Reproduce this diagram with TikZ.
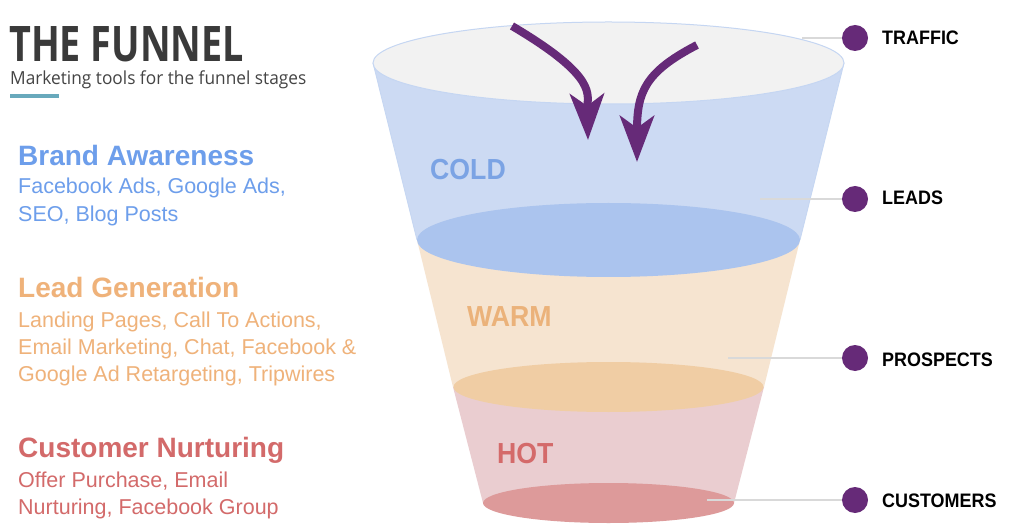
\documentclass[tikz,border=0pt]{standalone}
\usepackage{fontspec}
\setmainfont{Liberation Sans}
\newfontfamily\rob[FakeStretch=0.92]{Liberation Sans}
\newfontfamily\robw{Liberation Sans}
\newfontfamily\titlefont[FakeStretch=0.77]{Open Sans}
\newfontfamily\subfont[FakeStretch=0.96]{Open Sans}
\usetikzlibrary{arrows.meta}
\definecolor{topfill}{HTML}{F2F2F2}
\definecolor{coldbody}{HTML}{CCDAF3}
\definecolor{coldell}{HTML}{ABC4EE}
\definecolor{warmbody}{HTML}{F6E4D0}
\definecolor{warmell}{HTML}{F0CDA4}
\definecolor{hotbody}{HTML}{EACDD0}
\definecolor{hotell}{HTML}{DD9A9A}
\definecolor{coldtxt}{HTML}{7BA3E4}
\definecolor{warmtxt}{HTML}{EBB27A}
\definecolor{hottxt}{HTML}{D46A6A}
\definecolor{bluet}{HTML}{6D9EEB}
\definecolor{oranget}{HTML}{EFB27A}
\definecolor{redt}{HTML}{D36A6A}
\definecolor{purp}{HTML}{662A78}
\definecolor{titlec}{HTML}{3A3A3A}
\definecolor{subc}{HTML}{444444}
\definecolor{barc}{HTML}{68A9BC}
\definecolor{linec}{HTML}{D9D9D9}
\definecolor{edgec}{HTML}{C5D6F2}
\tikzset{
  txt/.style={inner sep=0pt, anchor=base west},
  head/.style={txt, font=\robw\bfseries\fontsize{28}{32}\selectfont},
  body/.style={txt, font=\robw\fontsize{21.5}{24}\selectfont},
  stage/.style={txt, font=\rob\bfseries\fontsize{29}{34}\selectfont},
  rlabel/.style={txt, font=\rob\bfseries\fontsize{19.5}{22}\selectfont, text=black},
  dot/.style={circle, fill=purp, minimum size=26pt, inner sep=0pt},
  conn/.style={draw=linec, line width=1.5pt},
  flow/.style={draw=purp, line width=8pt, -{Stealth[length=46pt,width=34pt,inset=12pt]}},
}
\begin{document}
\begin{tikzpicture}[x=1pt,y=-1pt]
\useasboundingbox (0,0) rectangle (1024,526);
\fill[white] (0,0) rectangle (1024,526);

% title
\node[txt, text depth=0pt, text height=35pt, font=\titlefont\bfseries\fontsize{49}{54}\selectfont, text=titlec] (title) at (9,62) {THE FUNNEL};
\node[txt, text height=13pt, font=\subfont\fontsize{18}{22}\selectfont, text=subc] (sub) at (10,85) {Marketing tools for the funnel stages};
\fill[barc] (10,94) rectangle (59,98);

% left texts
\node[head, text=bluet] (ba) at (18,166) {Brand Awareness};
\node[body, text=bluet] (ba1) at (18,194) {Facebook Ads, Google Ads,};
\node[body, text=bluet] (ba2) at (18,222) {SEO, Blog Posts};
\node[head, text=oranget] (lg) at (18,298) {Lead Generation};
\node[body, text=oranget] (lg1) at (18,327) {Landing Pages, Call To Actions,};
\node[body, text=oranget] (lg2) at (18,354) {Email Marketing, Chat, Facebook \&};
\node[body, text=oranget] (lg3) at (18,381) {Google Ad Retargeting, Tripwires};
\node[head, text=redt] (cn) at (18,457) {Customer Nurturing};
\node[body, text=redt] (cn1) at (18,487) {Offer Purchase, Email};
\node[body, text=redt] (cn2) at (18,514) {Nurturing, Facebook Group};

% funnel
\fill[hotbody] (453,387) -- (764,387) -- (734,503) -- (483,503) -- cycle;
\fill[hotell] (608.5,503) ellipse [x radius=125.5, y radius=20];
\fill[warmbody] (417,240) -- (800,240) -- (764,387) -- (453,387) -- cycle;
\fill[warmell] (608.5,387) ellipse [x radius=155, y radius=25];
\fill[coldbody] (373,63) -- (844,63) -- (800,240) -- (417,240) -- cycle;
\draw[edgec, line width=0.8pt] (373,63) -- (417,240) (844,63) -- (800,240);
\fill[coldell] (608.5,240) ellipse [x radius=191.5, y radius=37];
\filldraw[fill=topfill, draw=edgec, line width=1pt] (608.5,63) ellipse [x radius=235.5, y radius=41];

% stage labels
\node[stage, text=coldtxt] (cold) at (430,180) {COLD};
\node[stage, text=warmtxt] (warm) at (467,326) {WARM};
\node[stage, text=hottxt] (hot) at (497,463) {HOT};

% arrows
\coordinate (a1s) at (512,26);
\coordinate (a1e) at (588,140);
\coordinate (a2s) at (697,45);
\coordinate (a2e) at (637,162);
\draw[flow] (a1s) .. controls (600,78) and (587,95) .. (a1e);
\draw[flow] (a2s) .. controls (645,72) and (637,92) .. (a2e);

% dots and connectors
\node[dot] (d1) at (855,38) {};
\node[dot] (d2) at (855,199) {};
\node[dot] (d3) at (855,358) {};
\node[dot] (d4) at (855,500) {};
\coordinate (c1) at (802,38);
\coordinate (c2) at (760,199);
\coordinate (c3) at (728,358);
\coordinate (c4) at (707,500);
\draw[conn] (c1) -- (d1);
\draw[conn] (c2) -- (d2);
\draw[conn] (c3) -- (d3);
\draw[conn] (c4) -- (d4);
\node[rlabel] (l1) at (882,45) {TRAFFIC};
\node[rlabel] (l2) at (882,205) {LEADS};
\node[rlabel] (l3) at (882,366) {PROSPECTS};
\node[rlabel] (l4) at (882,507) {CUSTOMERS};
\end{tikzpicture}
\end{document}
